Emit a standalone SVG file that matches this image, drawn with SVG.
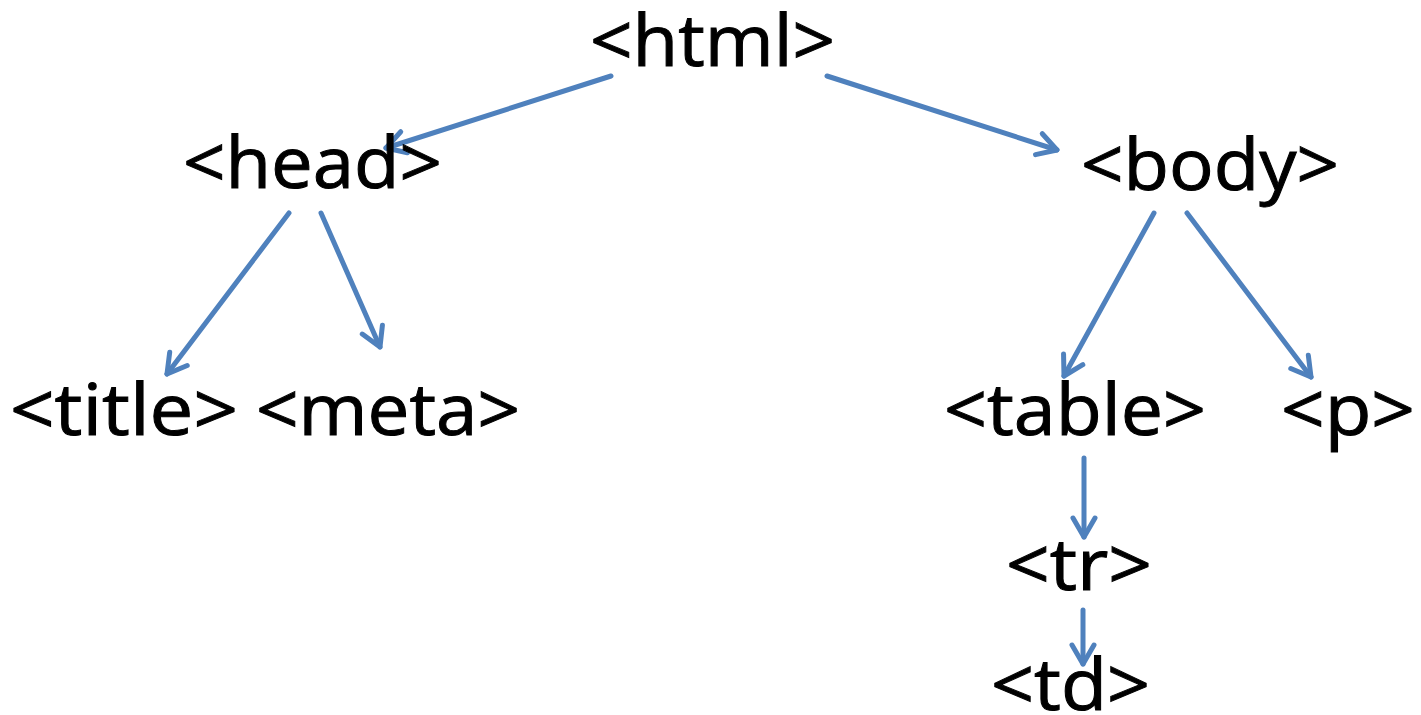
<svg xmlns="http://www.w3.org/2000/svg" width="1421" height="715" viewBox="0 0 1421 715">
<style>
  text { font-family: "Open Sans", "Liberation Sans", sans-serif; font-size: 72px; fill: #000; stroke: #000; stroke-width: 1; }
  .edge { stroke: #4F81BD; stroke-width: 5; fill: none; stroke-linecap: round; marker-end: url(#arr); }
</style>
<defs>
  <marker id="arr" markerUnits="userSpaceOnUse" viewBox="-24 -15 28 30" refX="0" refY="0" markerWidth="28" markerHeight="30" orient="auto">
    <path d="M-19,-11 L0,0 L-19,11" fill="none" stroke="#4F81BD" stroke-width="5" stroke-linecap="round" stroke-linejoin="round"/>
  </marker>
</defs>
<rect width="1421" height="715" fill="#fff"/>
<g id="connectors">
  <line class="edge" x1="611" y1="76" x2="386" y2="148"/>
  <line class="edge" x1="827" y1="76" x2="1057" y2="150"/>
  <line class="edge" x1="289" y1="213" x2="167" y2="374"/>
  <line class="edge" x1="321" y1="213" x2="380" y2="347"/>
  <line class="edge" x1="1154" y1="213" x2="1064" y2="376"/>
  <line class="edge" x1="1187" y1="213" x2="1311" y2="377"/>
  <line class="edge" x1="1084" y1="458" x2="1084" y2="537"/>
  <line class="edge" x1="1083" y1="610" x2="1083" y2="664"/>
</g>
<g id="node-html"><text x="590" y="66" textLength="245" lengthAdjust="spacingAndGlyphs">&lt;html&gt;</text></g>
<g id="node-head"><text x="183" y="188" textLength="259" lengthAdjust="spacingAndGlyphs">&lt;head&gt;</text></g>
<g id="node-body"><text x="1081" y="190" textLength="258" lengthAdjust="spacingAndGlyphs">&lt;body&gt;</text></g>
<g id="node-title"><text x="10" y="435" textLength="228" lengthAdjust="spacingAndGlyphs">&lt;title&gt;</text></g>
<g id="node-meta"><text x="256" y="435" textLength="264" lengthAdjust="spacingAndGlyphs">&lt;meta&gt;</text></g>
<g id="node-table"><text x="944" y="435" textLength="262" lengthAdjust="spacingAndGlyphs">&lt;table&gt;</text></g>
<g id="node-p"><text x="1281" y="435" textLength="134" lengthAdjust="spacingAndGlyphs">&lt;p&gt;</text></g>
<g id="node-tr"><text x="1006" y="590" textLength="146" lengthAdjust="spacingAndGlyphs">&lt;tr&gt;</text></g>
<g id="node-td"><text x="991" y="710" textLength="159" lengthAdjust="spacingAndGlyphs">&lt;td&gt;</text></g>
</svg>
